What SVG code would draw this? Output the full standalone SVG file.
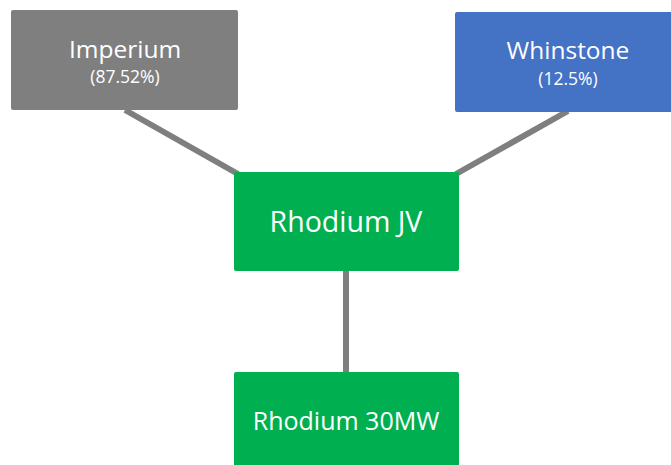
<svg xmlns="http://www.w3.org/2000/svg" width="671" height="465" viewBox="0 0 671 465">
<style>
.t{font-family:"Open Sans","Noto Sans","Liberation Sans",sans-serif;fill:#ffffff;text-anchor:middle}
.c{stroke:#7f7f7f;stroke-width:6;fill:none}
</style>
<rect width="671" height="465" fill="#ffffff"/>
<g id="connectors">
<line class="c" x1="125" y1="110" x2="238" y2="174"/>
<line class="c" x1="568" y1="111" x2="456" y2="174"/>
<line class="c" x1="346" y1="271" x2="346" y2="373"/>
</g>
<g id="imperium">
<rect x="11" y="10" width="227" height="100" rx="2" fill="#7f7f7f"/>
<text class="t" x="125" y="58" font-size="24.5">Imperium</text>
<text class="t" x="125" y="83" font-size="17.5">(87.52%)</text>
</g>
<g id="whinstone">
<rect x="455" y="12" width="218" height="100" rx="2" fill="#4472c4"/>
<text class="t" x="568" y="59" font-size="24.5">Whinstone</text>
<text class="t" x="568" y="85" font-size="17.5">(12.5%)</text>
</g>
<g id="rhodium-jv">
<rect x="234" y="172" width="225" height="99" rx="2" fill="#00b050"/>
<text class="t" x="346" y="232" font-size="28.5">Rhodium JV</text>
</g>
<g id="rhodium-30mw">
<rect x="234" y="372" width="225" height="95" rx="2" fill="#00b050"/>
<text class="t" x="346" y="430" font-size="25">Rhodium 30MW</text>
</g>
</svg>
